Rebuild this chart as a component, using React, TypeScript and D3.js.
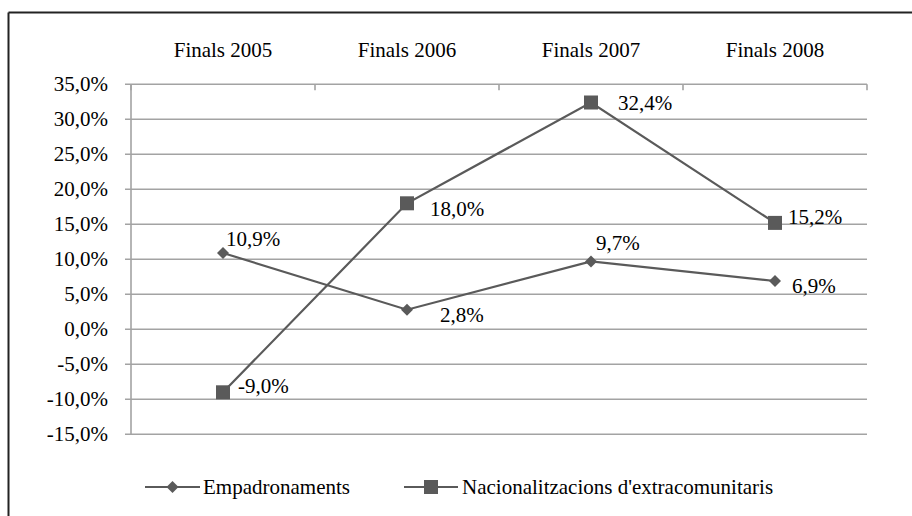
import React from "react";
import * as d3 from "d3";

const categories = ["Finals 2005", "Finals 2006", "Finals 2007", "Finals 2008"];
const empadronaments = [10.9, 2.8, 9.7, 6.9];
const nacionalitzacions = [-9.0, 18.0, 32.4, 15.2];
const yTicks = [35, 30, 25, 20, 15, 10, 5, 0, -5, -10, -15];
const seriesNames = ["Empadronaments", "Nacionalitzacions d'extracomunitaris"];

// label offsets (dx, dy) relative to each point
const empLabelOffsets: [number, number][] = [[3, -7], [33, 12], [5, -11], [17, 12]];
const nacLabelOffsets: [number, number][] = [[15, 1], [23, 13], [27, 7], [13, 1]];

const W = 912, H = 516;
const left = 131, right = 867, top = 84.3, bottom = 434.3;
const LINE = "#5a5a5a";
const GRID = "#a3a3a3";
const FONT = "Liberation Serif";

const fmt = (v: number) => v.toFixed(1).replace(".", ",") + "%";

export default function App() {
  const x = d3.scaleBand<string>().domain(categories).range([left, right]);
  const y = d3.scaleLinear().domain([-15, 35]).range([bottom, top]);
  const cx = (c: string) => (x(c) as number) + x.bandwidth() / 2;
  const line = d3.line<number>().x((_, i) => cx(categories[i])).y((d) => y(d));

  const diamond = (px: number, py: number, r = 6) =>
    `M${px},${py - r}L${px + r},${py}L${px},${py + r}L${px - r},${py}Z`;

  const bounds = [...categories.map((c) => x(c) as number), right];
  const ts: React.CSSProperties = { fontFamily: FONT, fontSize: 21 };

  return (
    <svg width={W} height={H} style={{ position: "absolute", left: 0, top: 0, display: "block", background: "#fff" }}>
      {/* frame */}
      <line x1={8.5} y1={12.5} x2={W} y2={12.5} stroke="#222" strokeWidth={2} />
      <line x1={8.5} y1={12.5} x2={8.5} y2={H} stroke="#222" strokeWidth={2} />

      {/* gridlines & y ticks */}
      {yTicks.map((t) => (
        <g key={t}>
          <line x1={left - 6} x2={right} y1={y(t)} y2={y(t)} stroke={GRID} strokeWidth={1.6} />
          <text x={108} y={y(t) + 7} textAnchor="end" style={ts} fill="#000">{fmt(t)}</text>
        </g>
      ))}
      {/* y axis line */}
      <line x1={left} x2={left} y1={top} y2={bottom} stroke={GRID} strokeWidth={1.6} />
      {/* category ticks (top axis, pointing down) */}
      {bounds.map((b, i) => (
        <line key={i} x1={b} x2={b} y1={top} y2={top + 6} stroke={GRID} strokeWidth={1.6} />
      ))}
      {/* category labels */}
      {categories.map((c) => (
        <text key={c} x={cx(c)} y={57} textAnchor="middle" style={ts} fill="#000">{c}</text>
      ))}

      {/* series lines */}
      <path d={line(empadronaments) || ""} fill="none" stroke={LINE} strokeWidth={2.2} />
      <path d={line(nacionalitzacions) || ""} fill="none" stroke={LINE} strokeWidth={2.2} />

      {/* markers */}
      {empadronaments.map((v, i) => (
        <path key={"e" + i} d={diamond(cx(categories[i]), y(v))} fill={LINE} />
      ))}
      {nacionalitzacions.map((v, i) => (
        <rect key={"n" + i} x={cx(categories[i]) - 7} y={y(v) - 7} width={14} height={14} fill={LINE} />
      ))}

      {/* data labels */}
      {empadronaments.map((v, i) => (
        <text key={"el" + i} x={cx(categories[i]) + empLabelOffsets[i][0]} y={y(v) + empLabelOffsets[i][1]} style={ts} fill="#000">{fmt(v)}</text>
      ))}
      {nacionalitzacions.map((v, i) => (
        <text key={"nl" + i} x={cx(categories[i]) + nacLabelOffsets[i][0]} y={y(v) + nacLabelOffsets[i][1]} style={ts} fill="#000">{fmt(v)}</text>
      ))}

      {/* legend */}
      <g>
        <line x1={145} x2={200} y1={487} y2={487} stroke={LINE} strokeWidth={2.2} />
        <path d={diamond(172.5, 487)} fill={LINE} />
        <text x={203} y={494} style={ts} fill="#000">{seriesNames[0]}</text>
        <line x1={404} x2={458} y1={487} y2={487} stroke={LINE} strokeWidth={2.2} />
        <rect x={424} y={480} width={14} height={14} fill={LINE} />
        <text x={462} y={494} style={ts} fill="#000">{seriesNames[1]}</text>
      </g>
    </svg>
  );
}
